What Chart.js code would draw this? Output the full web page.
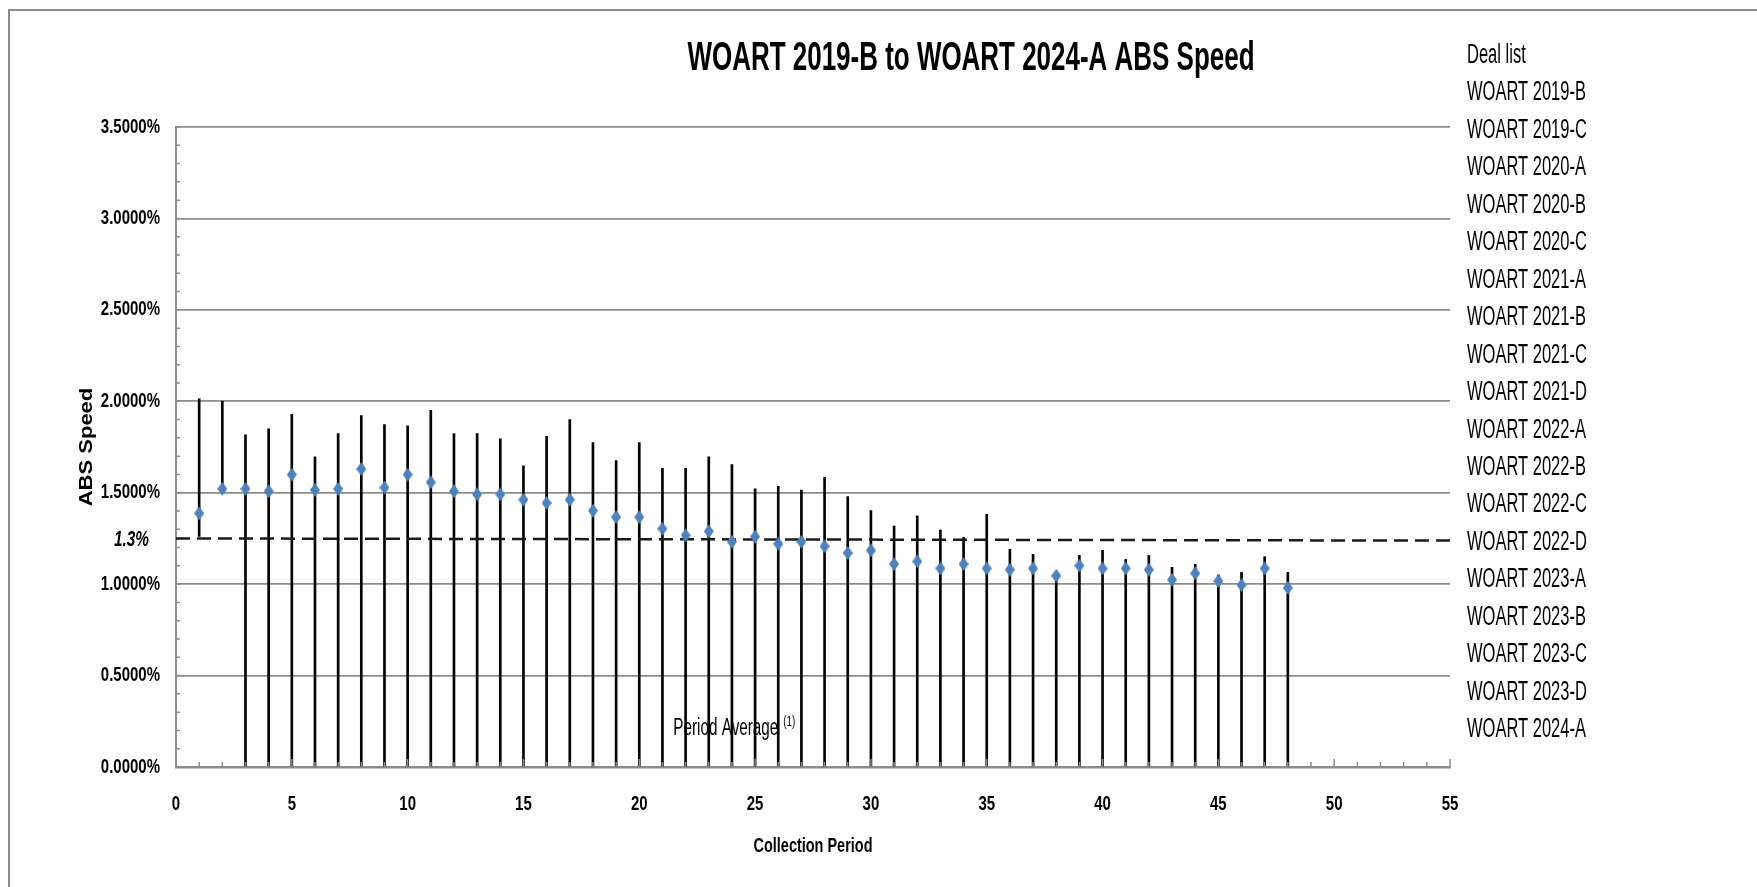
<!DOCTYPE html>
<html>
<head>
<meta charset="utf-8">
<title>WOART ABS Speed</title>
<script src="https://cdn.jsdelivr.net/npm/chart.js@4.4.1/dist/chart.umd.min.js"></script>
<style>
  html, body { margin: 0; padding: 0; background: #fff; }
  #chart { display: block; }
</style>
</head>
<body>
<canvas id="chart" width="1757" height="887"></canvas>
<script>
// Collection periods and ABS speed (in %)
const periods = [1, 2, 3, 4, 5, 6, 7, 8, 9, 10, 11, 12, 13, 14, 15, 16, 17, 18, 19, 20,
  21, 22, 23, 24, 25, 26, 27, 28, 29, 30, 31, 32, 33, 34, 35, 36, 37, 38, 39, 40,
  41, 42, 43, 44, 45, 46, 47, 48];
const avgSpeed = [1.387, 1.521, 1.521, 1.508, 1.599, 1.515, 1.521, 1.630, 1.528, 1.599,
  1.557, 1.508, 1.491, 1.491, 1.462, 1.444, 1.462, 1.402, 1.367, 1.367,
  1.303, 1.267, 1.289, 1.232, 1.260, 1.220, 1.232, 1.207, 1.170, 1.185,
  1.110, 1.124, 1.086, 1.110, 1.086, 1.079, 1.086, 1.046, 1.101, 1.086,
  1.086, 1.079, 1.024, 1.059, 1.017, 0.995, 1.086, 0.980];
const highSpeed = [2.014, 2.000, 1.816, 1.849, 1.929, 1.696, 1.824, 1.922, 1.873, 1.866,
  1.950, 1.824, 1.824, 1.795, 1.647, 1.809, 1.900, 1.774, 1.676, 1.774,
  1.634, 1.634, 1.696, 1.654, 1.521, 1.535, 1.515, 1.584, 1.479, 1.402,
  1.318, 1.373, 1.296, 1.256, 1.382, 1.190, 1.163, 1.050, 1.157, 1.185,
  1.135, 1.157, 1.092, 1.108, 1.050, 1.064, 1.150, 1.064];
const lowSpeed = [1.261, 1.521, 0, 0, 0, 0, 0, 0, 0, 0,
  0, 0, 0, 0, 0, 0, 0, 0, 0, 0,
  0, 0, 0, 0, 0, 0, 0, 0, 0, 0,
  0, 0, 0, 0, 0, 0, 0, 0, 0, 0,
  0, 0, 0, 0, 0, 0, 0, 0];

// period average (dashed line), from x=0 to x=55
const avgLineX = [0, 55];
const avgLineY = [1.250, 1.238];
const avgLabel = '1.3%';

const xTickValues = [0, 5, 10, 15, 20, 25, 30, 35, 40, 45, 50, 55];
const yTickValues = [0, 0.5, 1.0, 1.5, 2.0, 2.5, 3.0, 3.5];

const dealList = ['WOART 2019-B', 'WOART 2019-C', 'WOART 2020-A', 'WOART 2020-B', 'WOART 2020-C',
  'WOART 2021-A', 'WOART 2021-B', 'WOART 2021-C', 'WOART 2021-D', 'WOART 2022-A', 'WOART 2022-B',
  'WOART 2022-C', 'WOART 2022-D', 'WOART 2023-A', 'WOART 2023-B', 'WOART 2023-C', 'WOART 2023-D',
  'WOART 2024-A'];

const SANS = "'Liberation Sans', Arial, sans-serif";
const SQUEEZE = 0.75;   // reference text is a narrow face
const GRID = '#8c8c8c';
const BLUE = '#4F81BD';

// taller-than-wide diamond marker
function diamond(w, h, color) {
  const c = document.createElement('canvas');
  c.width = w; c.height = h;
  const g = c.getContext('2d');
  g.fillStyle = color;
  g.beginPath();
  g.moveTo(w / 2, 0); g.lineTo(w, h / 2); g.lineTo(w / 2, h); g.lineTo(0, h / 2);
  g.closePath(); g.fill();
  return c;
}

// horizontally squeezed text
function narrowText(ctx, str, x, y, font, sx, align) {
  ctx.save();
  ctx.font = font;
  ctx.textAlign = align || 'left';
  ctx.textBaseline = 'middle';
  ctx.translate(x, y);
  ctx.scale(sx, 1);
  ctx.fillText(str, 0, 0);
  ctx.restore();
}

// text drawn to a given width
function fitText(ctx, str, x, y, font, width, align) {
  ctx.save();
  ctx.font = font;
  const sx = width / ctx.measureText(str).width;
  ctx.restore();
  narrowText(ctx, str, x, y, font, sx, align);
}

const decor = {
  id: 'decor',
  afterDraw(chart) {
    const ctx = chart.ctx;
    const xs = chart.scales.x, ys = chart.scales.y;
    const area = chart.chartArea;
    ctx.save();

    // outer frame (top and left edges visible)
    ctx.strokeStyle = GRID; ctx.lineWidth = 2;
    ctx.beginPath();
    ctx.moveTo(9, 887); ctx.lineTo(9, 10); ctx.lineTo(1757, 10);
    ctx.stroke();

    // minor ticks
    ctx.lineWidth = 1.5;
    ctx.beginPath();
    for (let v = 0; v <= 3.5001; v += 0.1) {
      const py = ys.getPixelForValue(v);
      ctx.moveTo(area.left, py); ctx.lineTo(area.left + 4, py);
    }
    for (let v = 0; v <= 55; v++) {
      const px = xs.getPixelForValue(v);
      ctx.moveTo(px, area.bottom); ctx.lineTo(px, area.bottom - (v % 5 === 0 ? 8 : 5));
    }
    ctx.stroke();

    ctx.fillStyle = '#000';
    const tickFont = 'bold 20px ' + SANS;
    // y tick labels
    ys.ticks.forEach(t => {
      narrowText(ctx, t.value.toFixed(4) + '%', area.left - 16, ys.getPixelForValue(t.value),
        tickFont, SQUEEZE, 'right');
    });
    // x tick labels
    xs.ticks.forEach(t => {
      narrowText(ctx, String(t.value), xs.getPixelForValue(t.value), area.bottom + 37,
        tickFont, SQUEEZE, 'center');
    });
    // axis titles
    fitText(ctx, 'Collection Period', (area.left + area.right) / 2, 846, tickFont, 119, 'center');
    ctx.save();
    ctx.translate(87, (area.top + area.bottom) / 2);
    ctx.rotate(-Math.PI / 2);
    ctx.scale(1, 0.8);
    ctx.font = 'bold 22px ' + SANS;
    ctx.textAlign = 'center'; ctx.textBaseline = 'middle';
    ctx.fillText('ABS Speed', 0, 0);
    ctx.restore();

    // title
    fitText(ctx, 'WOART 2019-B to WOART 2024-A ABS Speed', 971, 59, 'bold 40px ' + SANS, 567, 'center');

    // average label
    const ay = ys.getPixelForValue(avgLineY[0]);
    fitText(ctx, avgLabel, 149, ay + 2, 'italic bold 22px ' + SANS, 35, 'right');

    // Period Average (1)
    const px = xs.getPixelForValue(21.47), py = ys.getPixelForValue(0.208);
    fitText(ctx, 'Period Average', px, py, '23px ' + SANS, 105, 'left');
    fitText(ctx, '(1)', px + 110, py - 7, '15px ' + SANS, 12, 'left');

    // deal list
    ctx.font = '27px ' + SANS;
    const sx = 119 / ctx.measureText('WOART 2024-A').width;
    ['Deal list'].concat(dealList).forEach((s, i) => {
      const y = i === 0 ? 56 : 93 + (i - 1) * 37.45;
      narrowText(ctx, s, 1467, y, '27px ' + SANS, sx, 'left');
    });
    ctx.restore();
  }
};

const ctx = document.getElementById('chart').getContext('2d');
new Chart(ctx, {
  type: 'bar',
  data: {
    datasets: [
      {
        type: 'scatter',
        label: 'ABS Speed',
        data: periods.map((p, i) => ({ x: p, y: avgSpeed[i] })),
        pointStyle: diamond(10, 14, BLUE),
        order: 0
      },
      {
        type: 'line',
        label: 'Period Average',
        data: avgLineX.map((x, i) => ({ x: x, y: avgLineY[i] })),
        borderColor: '#1a1a1a',
        borderWidth: 2.5,
        borderDash: [14, 7],
        pointRadius: 0,
        order: 1
      },
      {
        type: 'bar',
        label: 'Range',
        data: periods.map((p, i) => ({ x: p, y: [lowSpeed[i], highSpeed[i]] })),
        backgroundColor: '#000',
        barThickness: 2,
        grouped: false,
        order: 2
      }
    ]
  },
  options: {
    responsive: false,
    animation: false,
    layout: { padding: { left: 0, top: 127, right: 307, bottom: 0 } },
    plugins: {
      legend: { display: false },
      title: { display: false },
      tooltip: { enabled: false }
    },
    scales: {
      x: {
        type: 'linear',
        min: 0, max: 55,
        offset: false,
        afterFit: s => { s.height = 120; },
        afterBuildTicks: s => { s.ticks = xTickValues.map(v => ({ value: v })); },
        grid: { display: false, drawTicks: false },
        border: { display: true, color: GRID, width: 2.5 },
        ticks: { display: false }
      },
      y: {
        min: 0, max: 3.5,
        afterFit: s => { s.width = 176; },
        afterBuildTicks: s => { s.ticks = yTickValues.map(v => ({ value: v })); },
        grid: { color: GRID, lineWidth: 1.8, drawTicks: false },
        border: { display: true, color: GRID, width: 2 },
        ticks: { display: false }
      }
    }
  },
  plugins: [decor]
});
</script>
</body>
</html>
